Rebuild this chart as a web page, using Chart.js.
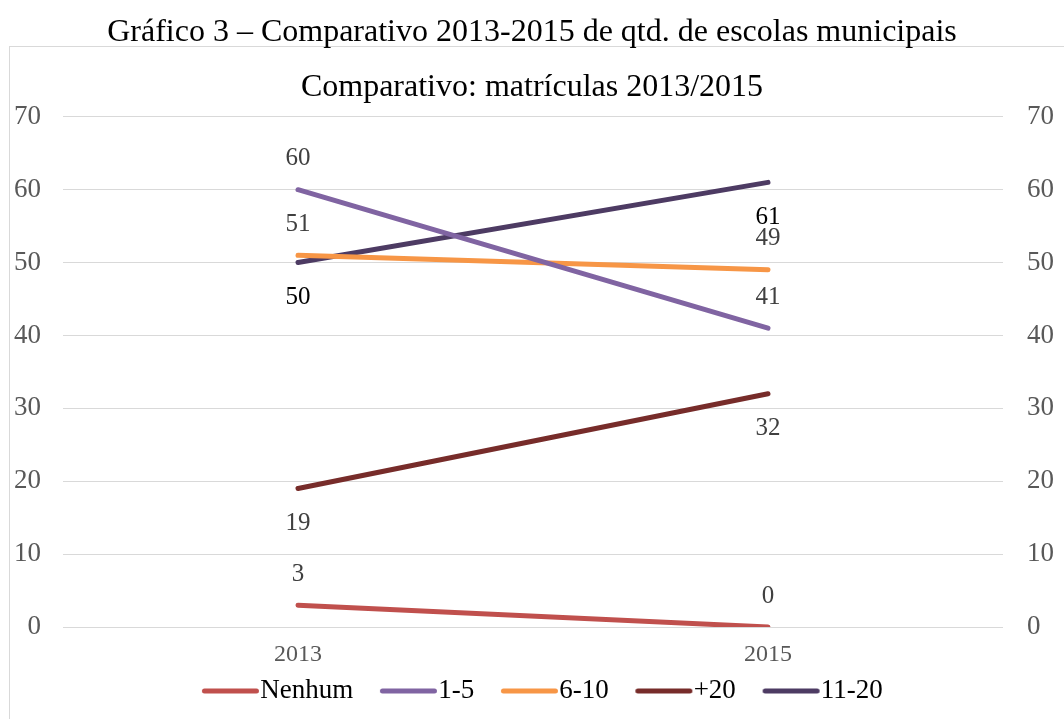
<!DOCTYPE html>
<html>
<head>
<meta charset="utf-8">
<script src="https://cdn.jsdelivr.net/npm/chart.js@4"></script>
<style>
  html, body { margin: 0; padding: 0; background: #fff; overflow: hidden; }
  canvas { display: block; }
</style>
</head>
<body>
<canvas id="grafico" width="1064" height="719"></canvas>
<script>
// Categorias e séries (quantidade de escolas por faixa de matrículas)
const anos = ['2013', '2015'];
const nenhum = [3, 0];
const umACinco = [60, 41];
const seisADez = [51, 49];
const maisDeVinte = [19, 32];
const onzeAVinte = [50, 61];

const tituloFigura = 'Gráfico 3 – Comparativo 2013-2015 de qtd. de escolas municipais';
const tituloGrafico = 'Comparativo: matrículas 2013/2015';

const serif = '"Liberation Serif", "Times New Roman", serif';

// Amostra da legenda: traço grosso de ponta arredondada, deslocado para a direita
// para ficar quase encostado no texto
function amostra(color) {
  const c = document.createElement('canvas');
  c.width = 100; c.height = 10;
  const g = c.getContext('2d');
  g.strokeStyle = color;
  g.lineWidth = 5;
  g.lineCap = 'round';
  g.beginPath();
  g.moveTo(40.5, 5);
  g.lineTo(92.5, 5);
  g.stroke();
  return c;
}

function serie(label, data, color, labelPos, labelColor) {
  return {
    label, data,
    borderColor: color, backgroundColor: color,
    borderWidth: 5, borderCapStyle: 'round', borderJoinStyle: 'round',
    pointRadius: 0, pointHoverRadius: 0, tension: 0,
    pointStyle: amostra(color),
    labelPos, labelColor
  };
}

// Moldura cinza em volta da área do gráfico
const moldura = {
  id: 'moldura',
  beforeDraw(chart) {
    const ctx = chart.ctx;
    ctx.save();
    ctx.fillStyle = '#ffffff';
    ctx.fillRect(0, 0, chart.width, chart.height);
    ctx.strokeStyle = '#d9d9d9';
    ctx.lineWidth = 1;
    ctx.strokeRect(9.5, 46.5, chart.width + 50, chart.height + 50);
    ctx.restore();
  }
};

// Rótulos de valor acima/abaixo de cada ponto
const rotulos = {
  id: 'rotulos',
  afterDatasetsDraw(chart) {
    const ctx = chart.ctx;
    ctx.save();
    ctx.font = '25px ' + serif;
    ctx.textAlign = 'center';
    ctx.textBaseline = 'middle';
    chart.data.datasets.forEach((ds, i) => {
      const meta = chart.getDatasetMeta(i);
      meta.data.forEach((pt, j) => {
        const acima = ds.labelPos[j] === 'above';
        ctx.fillStyle = ds.labelColor;
        ctx.fillText(String(ds.data[j]), pt.x, pt.y + (acima ? -31 : 35));
      });
    });
    ctx.restore();
  }
};

new Chart(document.getElementById('grafico'), {
  type: 'line',
  data: {
    labels: anos,
    datasets: [
      serie('Nenhum', nenhum, '#c0504d', ['above', 'above'], '#404040'),
      serie('1-5', umACinco, '#8064a2', ['above', 'above'], '#404040'),
      serie('6-10', seisADez, '#f79646', ['above', 'above'], '#404040'),
      serie('+20', maisDeVinte, '#772c2a', ['below', 'below'], '#404040'),
      serie('11-20', onzeAVinte, '#4d3b63', ['below', 'below'], '#000000')
    ]
  },
  options: {
    responsive: false,
    animation: false,
    events: [],
    layout: { padding: { top: 0, bottom: 4.5, left: 0, right: 0 } },
    plugins: {
      title: {
        display: true,
        text: tituloFigura,
        color: '#000',
        font: { family: serif, size: 32, weight: 'normal' },
        padding: { top: 13, bottom: 8 }
      },
      subtitle: {
        display: true,
        text: tituloGrafico,
        color: '#000',
        font: { family: serif, size: 32, weight: 'normal' },
        padding: { top: 9, bottom: 10 }
      },
      legend: {
        position: 'bottom',
        labels: {
          color: '#000',
          font: { family: serif, size: 27 },
          usePointStyle: true,
          pointStyleWidth: 65.5,
          boxHeight: 10,
          padding: 6
        }
      },
      tooltip: { enabled: false }
    },
    scales: {
      x: {
        offset: true,
        grid: { display: false, drawTicks: false },
        border: { display: false },
        ticks: { color: '#595959', font: { family: serif, size: 24 }, padding: 13.6 },
        afterFit(scale) { scale.height = 44.5; }
      },
      y: {
        position: 'left',
        min: 0, max: 70,
        ticks: { stepSize: 10, color: '#595959', font: { family: serif, size: 27 }, padding: 22 },
        grid: { color: '#d9d9d9', lineWidth: 1, drawTicks: false },
        border: { display: false },
        afterFit(scale) { scale.width = 63; }
      },
      y2: {
        position: 'right',
        min: 0, max: 70,
        ticks: { stepSize: 10, color: '#595959', font: { family: serif, size: 27 }, padding: 24 },
        grid: { display: false, drawTicks: false },
        border: { display: false },
        afterFit(scale) { scale.width = 61; }
      }
    }
  },
  plugins: [moldura, rotulos]
});
</script>
</body>
</html>
